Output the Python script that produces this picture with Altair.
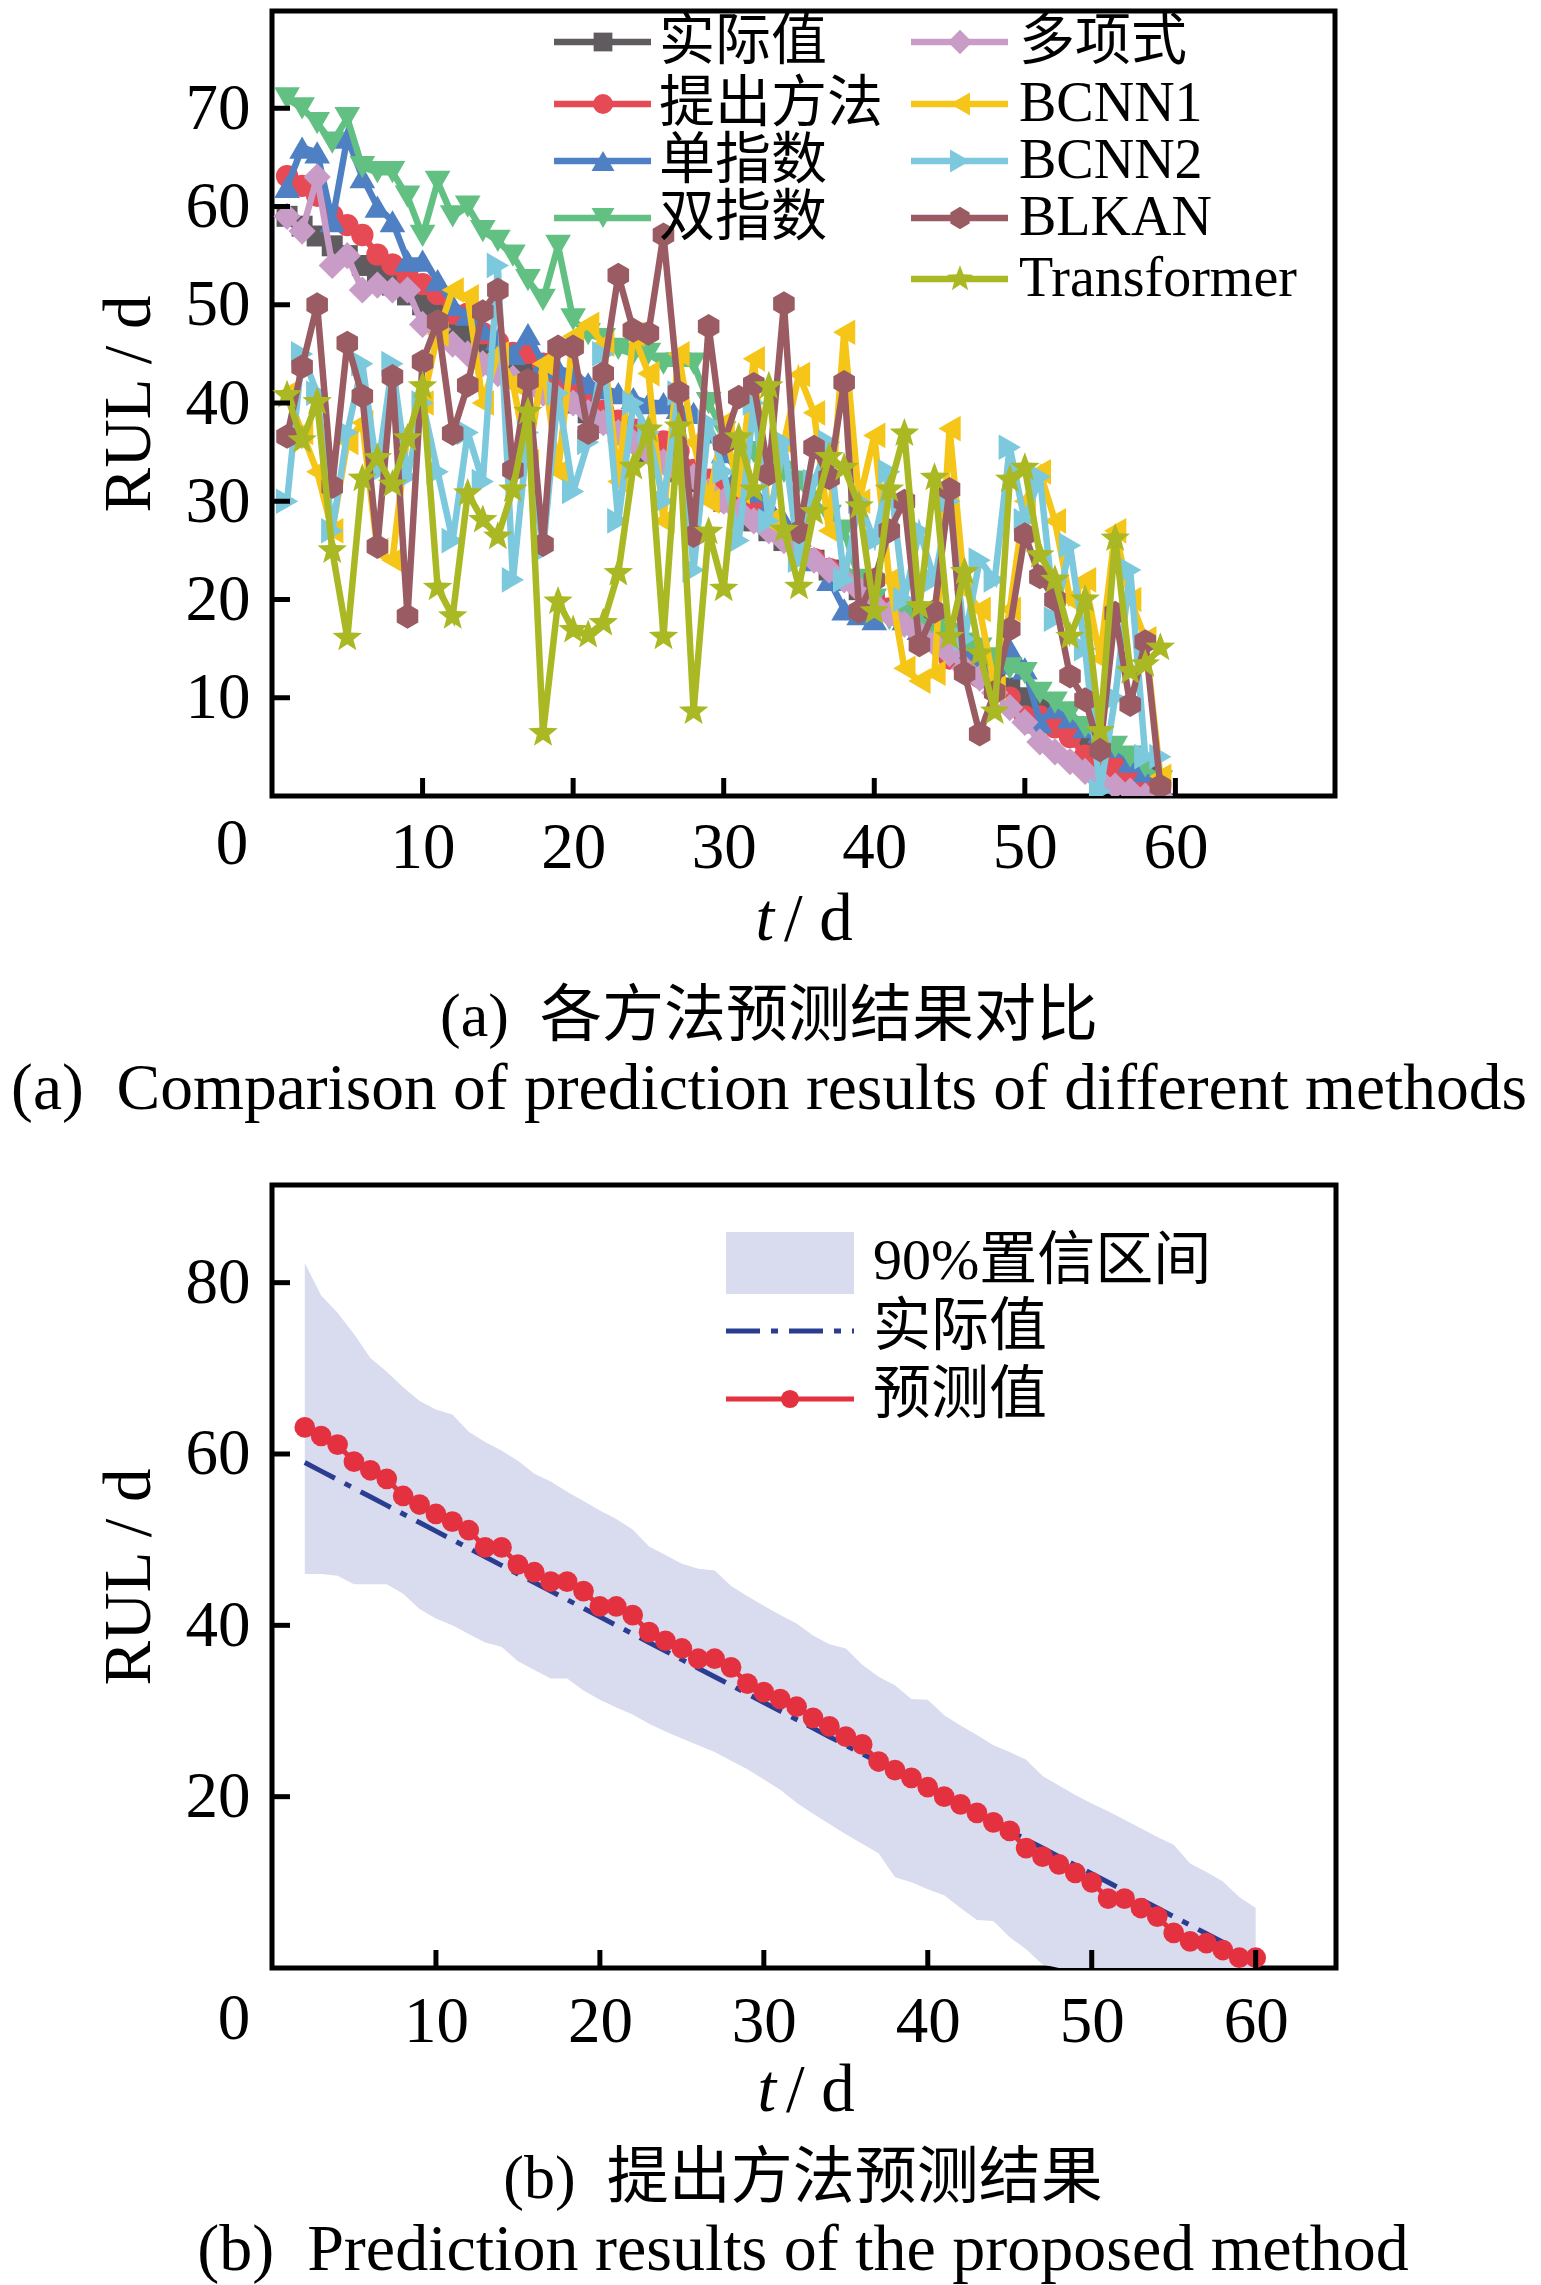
import math
import altair as alt
import pandas as pd

SERIF = "Liberation Serif"
MIXED = "Liberation Serif, Noto Sans CJK SC"

# ---------------- panel (a) data ----------------
t_a = list(range(1, 60))
actual_a = [59, 58, 57, 56, 55, 54, 53, 52, 51, 50, 49, 48, 47, 46, 45, 44, 43, 42, 41, 40,
            39, 38, 37, 36, 35, 34, 33, 32, 31, 30, 29, 28, 27, 26, 25, 24, 23, 22, 21, 20,
            19, 18, 17, 16, 15, 14, 13, 12, 11, 10, 9, 8, 7, 6, 5, 4, 3, 2, 1]
proposed_a = [63.1, 62.1, 61.1, 59.1, 58.1, 57.1, 55.1, 54.1, 53.0, 52.1, 51.1, 49.1, 49.1, 47.1, 46.2,
              45.1, 45.1, 44.0, 42.2, 42.2, 41.2, 39.2, 38.2, 37.3, 36.1, 36.1, 35.1, 33.2, 32.2, 31.4,
              30.5, 29.2, 28.2, 27.0, 26.1, 24.1, 23.1, 22.2, 21.1, 20.0, 19.1, 18.1, 17.0, 16.0, 14.0,
              13.0, 12.1, 11.1, 10.0, 8.1, 8.1, 7.0, 6.0, 4.1, 3.1, 2.9, 2.1, 1.2, 1.2]
single_exp_a = [62, 66, 65.5, 58.5, 67, 63, 60, 58.5, 54.5, 54.5, 52.5, 50, 49, 47.5, 46.5, 45, 47, 44,
                43.5, 43, 42, 41.5, 41, 40.5, 40, 40, 39.5, 39, 37, 35, 33, 31, 29.5, 28, 26.5, 24, 22,
                19, 18.5, 18, 19, 18, 17, 16, 15.5, 15, 14, 13.5, 15, 13, 7.5, 9, 8, 7, 6.5, 5, 3.5, 2.5, 1]
double_exp_a = [71, 70, 68.5, 66.5, 69, 64, 63.5, 63.5, 61, 57, 62.5, 59, 60, 57.5, 56.5, 55, 52.5, 50.5,
                56, 48.5, 47, 46.5, 45.5, 45, 45, 44, 44, 44, 40, 37, 36, 35, 34, 33, 32, 30, 28.5, 27,
                22, 20, 18, 18.5, 17.5, 17, 16.5, 15.5, 15, 14, 13, 12.5, 10.5, 9.5, 8.5, 7, 6, 5, 4, 3, 1.5]
poly_a = [59, 57.5, 63, 54, 55, 51.5, 52, 51.5, 51.5, 48, 47.5, 46, 45, 44, 43, 42.5, 42, 41, 40.5, 40,
          39, 38, 37, 36, 35, 34, 33, 32.5, 31, 30, 29, 28, 27, 26, 25, 24, 23, 22, 21, 19.5,
          18.5, 17.5, 16.5, 15.5, 14.5, 13, 12, 10.5, 9, 7.5, 5.5, 4.5, 3.5, 2.5, 1.5, 1, 0.5, 0, 0]
bcnn1_a = [41, 37, 33, 27, 36, 38, 25, 24, 37, 40, 47, 51.5, 50.8, 40, 45, 42, 34, 44, 33, 46.8,
           48, 46, 32, 47, 43, 28, 45, 36, 30, 38, 31, 44.5, 28, 36, 42.9, 39, 27, 47.2, 30, 36.7,
           22, 13, 11.7, 12.5, 37.4, 21, 19, 11, 19, 30, 33, 28, 20, 22, 14, 27, 20, 16, 2]
bcnn2_a = [30, 45, 41, 27, 37, 44, 33, 44, 32.5, 40, 33, 26, 37, 32, 54, 22, 37, 25, 41, 31,
           36, 45, 28, 40, 37, 30, 41, 23, 38, 33, 26, 40, 28, 36, 24, 32, 36, 22, 30, 26,
           33, 20, 27, 22, 30, 16, 24, 22, 35.5, 28, 32.5, 18, 25.5, 15, 0.5, 10, 23, 4, 4]
blkan_a = [36.6, 43.7, 50, 31.5, 46.1, 40.7, 25.4, 42.7, 18.3, 44.2, 48.3, 36.9, 41.8, 49.3, 51.5,
           33.2, 42.3, 25.6, 45.7, 45.7, 37, 43, 53, 47.4, 47.1, 57.1, 41.1, 26.5, 47.8, 35.9,
           40.6, 41.9, 32.8, 50.1, 26.9, 35.5, 32.4, 42.1, 18.8, 22, 27, 30, 15.4, 18.8, 31.2,
           12.5, 6.3, 10.6, 17, 26.6, 22.3, 20, 12.2, 9.8, 4.7, 18.6, 9.3, 15.7, 1]
transformer_a = [40.8, 36.2, 40.1, 25, 16.1, 32.3, 34.4, 31.7, 36.4, 41.7, 21.2, 18.3, 30.8, 28.1, 26.4,
                 31.2, 39.1, 6.4, 19.8, 16.9, 16.4, 17.6, 22.7, 33.5, 37.3, 16.2, 37.6, 8.6, 26.9, 21.1,
                 36.5, 31.2, 41.7, 27.1, 21.3, 28.9, 34.5, 33.4, 29.5, 18.8, 31.2, 36.9, 19.3, 32.4, 16.2,
                 22.8, 14.5, 8.6, 32.2, 33.4, 24.5, 22, 16.2, 20, 6.6, 26.2, 12.7, 13.4, 15.1]
names_a = ["实际值", "提出方法", "单指数", "双指数", "多项式", "BCNN1", "BCNN2", "BLKAN", "Transformer"]
series_a = [actual_a, proposed_a, single_exp_a, double_exp_a, poly_a, bcnn1_a, bcnn2_a, blkan_a, transformer_a]
xticks_a = [10, 20, 30, 40, 50, 60]
yticks_a = [10, 20, 30, 40, 50, 60, 70]

# ---------------- panel (b) data ----------------
t_b = list(range(2, 61))
pred_b = [63.1, 62.1, 61.1, 59.1, 58.1, 57.1, 55.1, 54.1, 53.0, 52.1, 51.1, 49.1, 49.1, 47.1, 46.2,
          45.1, 45.1, 44.0, 42.2, 42.2, 41.2, 39.2, 38.2, 37.3, 36.1, 36.1, 35.1, 33.2, 32.2, 31.4,
          30.5, 29.2, 28.2, 27.0, 26.1, 24.1, 23.1, 22.2, 21.1, 20.0, 19.1, 18.1, 17.0, 16.0, 14.0,
          13.0, 12.1, 11.1, 10.0, 8.1, 8.1, 7.0, 6.0, 4.1, 3.1, 2.9, 2.1, 1.2, 1.2]
upper_b = [82.3, 78.5, 76.5, 74, 71.2, 69.6, 67.8, 66.2, 65.2, 64.6,
           62.6, 61.4, 60.4, 59.2, 57.7, 56.8, 55.6, 54.5, 53.4, 52.4,
           51.2, 49.2, 48.2, 47.2, 46.6, 46.4, 44.6, 43.4, 42.3, 41.2,
           40.2, 38.8, 37.8, 37.3, 35.4, 34, 33, 31.4, 31.3, 29.5,
           28.3, 27.2, 26, 25.2, 24.3, 22.4, 21.3, 20.2, 19.2, 18.3,
           17.3, 16.3, 15.3, 14.4, 12.2, 11.2, 10.1, 8.3, 7.0]
lower_b = [46, 46, 45.8, 44.8, 44.8, 44.8, 43.7, 41.9, 40.8, 40,
           39, 38, 37.5, 35.8, 34.8, 33.8, 33.8, 32.4, 31.3, 30.4,
           29.6, 28.5, 27.6, 26.8, 26, 25.2, 24.2, 23.2, 22, 20.8,
           19.3, 18, 16.8, 15.6, 14.5, 13.4, 10.6, 10, 9.2, 8.5,
           7, 5.6, 5.5, 3.6, 2.2, 0.4, 0, 0, 0, 0,
           0, 0, 0, 0, 0, 0, 0, 0, 0]
t_actual_b = list(range(2, 60))
actual_b = [59, 58, 57, 56, 55, 54, 53, 52, 51, 50, 49, 48, 47, 46, 45, 44, 43, 42, 41, 40,
            39, 38, 37, 36, 35, 34, 33, 32, 31, 30, 29, 28, 27, 26, 25, 24, 23, 22, 21, 20,
            19, 18, 17, 16, 15, 14, 13, 12, 11, 10, 9, 8, 7, 6, 5, 4, 3, 2]
xticks_b = [10, 20, 30, 40, 50, 60]
yticks_b = [20, 40, 60, 80]

# ---------------- styles ----------------
HEX = "M0,-1L0.866,-0.5L0.866,0.5L0,1L-0.866,0.5L-0.866,-0.5Z"
_pts = []
for k in range(10):
    r = 1.0 if k % 2 == 0 else 0.42
    a = math.radians(-90 + 36 * k)
    _pts.append(f"{r * math.cos(a):.3f},{r * math.sin(a):.3f}")
STAR = "M" + "L".join(_pts) + "Z"

styles_a = [
    ("#5f5b5f", "square", 440),
    ("#e64b55", "circle", 500),
    ("#4f80c3", "triangle-up", 660),
    ("#62c083", "triangle-down", 660),
    ("#c89cc6", "diamond", 740),
    ("#f5c518", "triangle-left", 660),
    ("#7cc8dd", "triangle-right", 660),
    ("#9a5c62", HEX, 620),
    ("#a9b823", STAR, 960),
]
LW = 6.5

one = pd.DataFrame({"k": [0]})


def txt(s, x, y, size, font=MIXED, align="left", baseline="middle", style="normal"):
    return alt.Chart(one).mark_text(
        text=s, font=font, fontSize=size, align=align, baseline=baseline,
        fontStyle=style, color="black"
    ).encode(x=alt.value(x), y=alt.value(y))


def hline(x1, x2, y, color, width=6, dash=None):
    kw = dict(color=color, strokeWidth=width)
    if dash:
        kw["strokeDash"] = dash
    return alt.Chart(one).mark_rule(**kw).encode(x=alt.value(x1), x2=alt.value(x2), y=alt.value(y))


def sym(x, y, color, shape, size):
    return alt.Chart(one).mark_point(shape=shape, size=size, filled=True, color=color,
                                     opacity=1).encode(x=alt.value(x), y=alt.value(y))


def make_axis(vals, title=None, pad=20):
    kw = dict(values=vals, ticks=False, tickSize=0, domain=False, grid=False,
              labelFont=SERIF, labelFontSize=65, labelColor="black", labelPadding=pad,
              labelOverlap=False)
    if title:
        kw.update(title=title, titleFont=SERIF, titleFontSize=67, titleFontWeight="normal",
                  titleColor="black", titlePadding=22)
    else:
        kw.update(title=None)
    return alt.Axis(**kw)


# ---------------- panel (a) ----------------
W_A, H_A = 1063, 785
xs_a = alt.Scale(domain=[0, 70.6], nice=False, zero=False)
ys_a = alt.Scale(domain=[0, 79.9], nice=False, zero=False)
x_axis_a = make_axis(xticks_a, None, 20)
y_axis_a = make_axis(yticks_a, "RUL / d", 22)

layers_a = []
for i, (vals, (col, shp, sz)) in enumerate(zip(series_a, styles_a)):
    d = pd.DataFrame({"t": t_a, "v": vals})
    base = alt.Chart(d).encode(
        x=alt.X("t:Q", scale=xs_a, axis=x_axis_a),
        y=alt.Y("v:Q", scale=ys_a, axis=y_axis_a),
    )
    layers_a.append(base.mark_line(color=col, strokeWidth=LW, clip=True))
    layers_a.append(base.mark_point(shape=shp, size=sz, filled=True, color=col, opacity=1, clip=True))

layers_a.append(alt.Chart(pd.DataFrame({"v": xticks_a})).mark_rule(color="black", strokeWidth=5).encode(
    x=alt.X("v:Q", scale=xs_a, axis=x_axis_a), y=alt.value(H_A), y2=alt.value(H_A - 18)))
layers_a.append(alt.Chart(pd.DataFrame({"v": yticks_a})).mark_rule(color="black", strokeWidth=5).encode(
    y=alt.Y("v:Q", scale=ys_a, axis=y_axis_a), x=alt.value(0), x2=alt.value(18)))

# legend (a)
rows = [31, 93, 150, 207, 268]
cols = [(282, 379, 331, 387), (639, 736, 688, 747)]
for i, name in enumerate(names_a):
    c = 0 if i < 4 else 1
    r = i if i < 4 else i - 4
    x1, x2, xm, xt = cols[c]
    col, shp, sz = styles_a[i]
    layers_a.append(hline(x1, x2, rows[r], col, LW))
    layers_a.append(sym(xm, rows[r], col, shp, sz * 0.8))
    layers_a.append(txt(name, xt, rows[r], 56))

layers_a.append(txt("0", -40, H_A + 48, 65, font=SERIF, align="center"))
layers_a.append(txt("t", 502, H_A + 144, 67, font=SERIF, align="right", baseline="alphabetic", style="italic"))
layers_a.append(txt("/ d", 512, H_A + 144, 67, font=SERIF, align="left", baseline="alphabetic"))
layers_a.append(txt("(a)\u00a0\u00a0各方法预测结果对比", 497, H_A + 240, 62, align="center", baseline="alphabetic"))
layers_a.append(txt("(a)\u00a0\u00a0Comparison of prediction results of different methods", 497, H_A + 313, 65.5,
                    font=SERIF, align="center", baseline="alphabetic"))

chart_a = alt.layer(*layers_a).properties(width=W_A, height=H_A)

# ---------------- panel (b) ----------------
W_B, H_B = 1064, 783
xs_b = alt.Scale(domain=[0, 64.9], nice=False, zero=False)
ys_b = alt.Scale(domain=[0, 91.4], nice=False, zero=False)
x_axis_b = make_axis(xticks_b, None, 22)
y_axis_b = make_axis(yticks_b, "RUL / d", 22)

BAND = "#d9dbee"
ACT = "#2b3d91"
PRED = "#e3313f"
DASH = [34, 11, 7, 11]

band = alt.Chart(pd.DataFrame({"t": t_b, "u": upper_b, "l": lower_b})).mark_area(
    color=BAND, opacity=1, clip=True).encode(
    x=alt.X("t:Q", scale=xs_b, axis=x_axis_b),
    y=alt.Y("u:Q", scale=ys_b, axis=y_axis_b),
    y2="l:Q")
act_line = alt.Chart(pd.DataFrame({"t": t_actual_b, "v": actual_b})).mark_line(
    color=ACT, strokeWidth=5, strokeDash=DASH, clip=True).encode(
    x=alt.X("t:Q", scale=xs_b, axis=x_axis_b), y=alt.Y("v:Q", scale=ys_b, axis=y_axis_b))
pbase = alt.Chart(pd.DataFrame({"t": t_b, "v": pred_b})).encode(
    x=alt.X("t:Q", scale=xs_b, axis=x_axis_b), y=alt.Y("v:Q", scale=ys_b, axis=y_axis_b))
pred_line = pbase.mark_line(color=PRED, strokeWidth=5, clip=True)
pred_pts = pbase.mark_point(shape="circle", size=430, filled=True, color=PRED, opacity=1)

layers_b = [band, act_line, pred_line, pred_pts]
layers_b.append(alt.Chart(pd.DataFrame({"v": xticks_b})).mark_rule(color="black", strokeWidth=5).encode(
    x=alt.X("v:Q", scale=xs_b, axis=x_axis_b), y=alt.value(H_B), y2=alt.value(H_B - 18)))
layers_b.append(alt.Chart(pd.DataFrame({"v": yticks_b})).mark_rule(color="black", strokeWidth=5).encode(
    y=alt.Y("v:Q", scale=ys_b, axis=y_axis_b), x=alt.value(0), x2=alt.value(18)))

# legend (b)
layers_b.append(alt.Chart(one).mark_rect(color=BAND).encode(
    x=alt.value(454), x2=alt.value(582), y=alt.value(47), y2=alt.value(109)))
layers_b.append(txt("90%置信区间", 601, 77, 58))
layers_b.append(hline(454, 582, 146, ACT, 5, DASH))
layers_b.append(txt("实际值", 601, 143, 58))
layers_b.append(hline(454, 582, 214, PRED, 5))
layers_b.append(sym(518, 214, PRED, "circle", 330))
layers_b.append(txt("预测值", 601, 211, 58))

layers_b.append(txt("0", -38, H_B + 51, 65, font=SERIF, align="center"))
layers_b.append(txt("t", 504, H_B + 143, 67, font=SERIF, align="right", baseline="alphabetic", style="italic"))
layers_b.append(txt("/ d", 514, H_B + 143, 67, font=SERIF, align="left", baseline="alphabetic"))
layers_b.append(txt("(b)\u00a0\u00a0提出方法预测结果", 531, H_B + 230, 62, align="center", baseline="alphabetic"))
layers_b.append(txt("(b)\u00a0\u00a0Prediction results of the proposed method", 531, H_B + 302, 66,
                    font=SERIF, align="center", baseline="alphabetic"))

chart_b = alt.layer(*layers_b).properties(width=W_B, height=H_B)

chart = alt.vconcat(chart_a, chart_b, spacing=57, padding=0).configure(
    background="white",
    view=alt.ViewConfig(stroke="black", strokeWidth=5),
)

chart.save("out.html", embed_options={"renderer": "svg", "actions": False})
